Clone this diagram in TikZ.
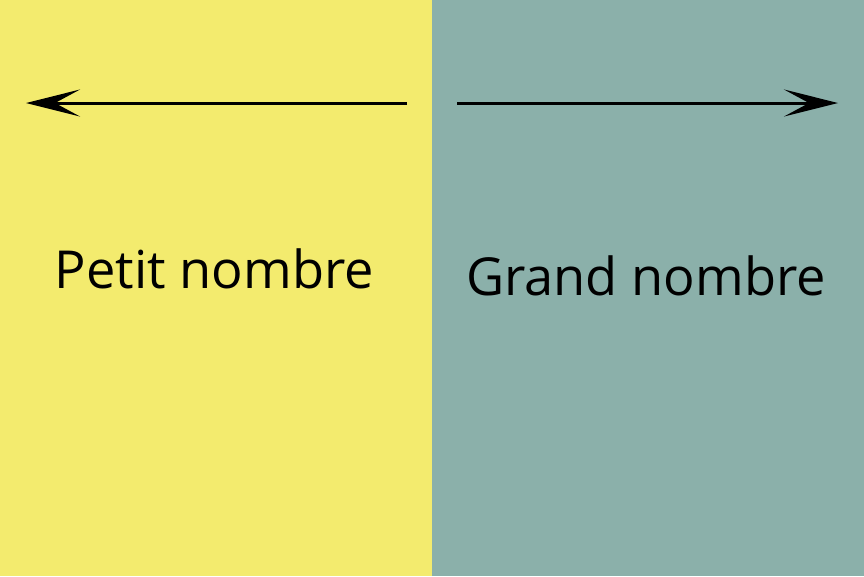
\documentclass[tikz,border=0pt]{standalone}
\usepackage{fontspec}
\setmainfont{Open Sans}
\usepackage{tikz}
\usetikzlibrary{arrows.meta,positioning}

\definecolor{petitjaune}{RGB}{243,235,110}
\definecolor{grandvert}{RGB}{139,176,170}

\begin{document}
\begin{tikzpicture}[
  sens/.style={line width=0.85pt, -{Stealth[length=0.54cm, width=0.27cm, inset=0.25cm]}},
  mot/.style={font=\fontsize{14.9}{17}\selectfont, anchor=base, inner sep=0pt},
]
\useasboundingbox (0,0) rectangle (8.64,5.76);

% --- two halves ---
\fill[petitjaune] (0,0) rectangle (4.32,5.76);
\fill[grandvert] (4.32,0) rectangle (8.64,5.76);

% --- arrows ---
\coordinate (gdeb) at (4.07,4.73);
\coordinate (gfin) at (0.26,4.73);
\coordinate (ddeb) at (4.57,4.73);
\coordinate (dfin) at (8.38,4.73);
\draw[sens] (gdeb) -- (gfin);
\draw[sens] (ddeb) -- (dfin);

% --- labels ---
\node[mot] (petit) at (2.145,2.88) {Petit nombre};
\node[mot] (grand) at (6.46,2.81) {Grand nombre};

\end{tikzpicture}
\end{document}
